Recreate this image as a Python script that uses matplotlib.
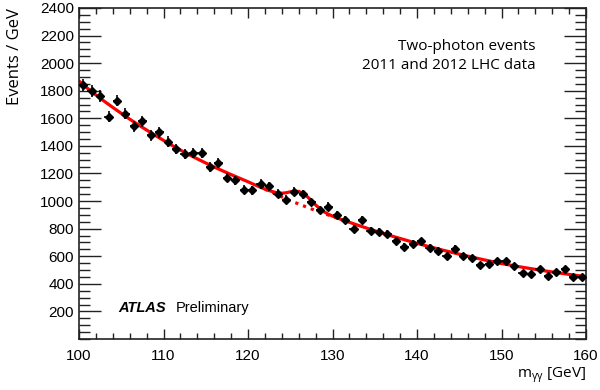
import numpy as np
import matplotlib.pyplot as plt
from matplotlib.ticker import MultipleLocator

# data points, 1 GeV bins (bin centres 100.5 ... 159.5)
mass = np.arange(100.5, 160.0, 1.0)
events = [1839, 1800, 1762, 1612, 1728, 1632, 1542, 1578, 1477, 1498,
          1431, 1378, 1339, 1349, 1349, 1248, 1277, 1170, 1151, 1083,
          1077, 1124, 1108, 1052, 1011, 1067, 1050, 994, 936, 960,
          897, 864, 796, 864, 786, 777, 762, 714, 670, 690,
          709, 663, 639, 600, 653, 600, 586, 538, 547, 567,
          565, 528, 475, 470, 509, 460, 484, 504, 452, 452]

# fitted curve: signal + background
fit_x = [100, 101, 102, 103, 104, 105, 106, 107, 108, 109,
         110, 111, 112, 113, 114, 115, 116, 117, 118, 119,
         120, 120.5, 121, 121.5, 122, 122.5, 123, 123.5, 124, 124.5,
         125, 125.5, 126, 126.5, 127, 127.5, 128, 128.5, 129, 129.5,
         130, 130.5, 131, 132, 133, 134, 135, 136, 137, 138,
         139, 140, 141, 142, 143, 144, 145, 146, 147, 148,
         149, 150, 151, 152, 153, 154, 155, 156, 157, 158,
         159, 160]
fit_y = [1870, 1818, 1769, 1723, 1679, 1636, 1594, 1554, 1515, 1477,
         1440, 1404, 1370, 1337, 1306, 1276, 1247, 1219, 1192, 1166,
         1140, 1126, 1113, 1099, 1087, 1076, 1067, 1059, 1057, 1060,
         1067, 1072, 1070, 1057, 1033, 1003, 972, 945, 922, 905,
         891, 879, 867, 846, 825, 805, 785, 766, 747, 729,
         711, 694, 677, 661, 645, 630, 615, 601, 587, 573,
         560, 547, 536, 525, 515, 505, 495, 486, 477, 468,
         460, 452]

# background-only part under the signal (dotted)
bkg_x = [122, 122.5, 123, 123.5, 124, 124.5, 125, 125.5, 126, 126.5,
         127, 127.5, 128, 128.5, 129, 129.5, 130, 130.5]
bkg_y = [1086, 1073, 1060, 1045, 1030, 1016, 1003, 991, 979, 967,
         955, 943, 932, 921, 910, 899, 889, 878]

x_ticks = [100, 110, 120, 130, 140, 150, 160]
y_ticks = [200, 400, 600, 800, 1000, 1200, 1400, 1600, 1800, 2000, 2200, 2400]

plt.rcParams['font.family'] = ['Liberation Sans', 'DejaVu Sans']
plt.rcParams['mathtext.fontset'] = 'custom'
plt.rcParams['mathtext.rm'] = 'Open Sans'
plt.rcParams['mathtext.it'] = 'Open Sans:italic'

fig = plt.figure(figsize=(6.0, 3.9), dpi=100)
ax = fig.add_axes([0.1317, 0.1308, 0.845, 0.8487])

ax.plot(fit_x, fit_y, color='red', lw=2.3, zorder=2, solid_capstyle='round')
ax.plot(bkg_x, bkg_y, color='red', lw=2.3, ls=(0, (1.0, 1.6)), zorder=2)
ax.errorbar(mass, events, yerr=np.sqrt(events), xerr=0.5, fmt='D',
            color='black', ms=4.2, elinewidth=1.2, capsize=0, zorder=3)

ax.set_xlim(100, 160)
ax.set_ylim(0, 2400)
ax.set_xticks(x_ticks)
ax.set_yticks(y_ticks)
ax.xaxis.set_minor_locator(MultipleLocator(2))
ax.yaxis.set_minor_locator(MultipleLocator(50))
ax.tick_params(which='both', direction='in', top=True, right=True,
               labelsize=11, width=1.0, color='#222222')
ax.tick_params(axis='y', which='major', length=16)
ax.tick_params(axis='y', which='minor', length=8)
ax.tick_params(axis='x', which='major', length=7)
ax.tick_params(axis='x', which='minor', length=4)
ax.tick_params(axis='x', pad=7)
for s in ax.spines.values():
    s.set_linewidth(1.2)
    s.set_color('#222222')

ax.set_ylabel('Events / GeV', family='Open Sans', fontsize=12, loc='top', labelpad=12)
ax.set_xlabel(r'm$_{\mathregular{γγ}}$ [GeV]', family='Open Sans', fontsize=11,
              loc='right', labelpad=2)

ax.text(0.901, 0.885, 'Two-photon events', transform=ax.transAxes, ha='right',
        va='center', family='Open Sans', fontsize=11)
ax.text(0.901, 0.825, '2011 and 2012 LHC data', transform=ax.transAxes, ha='right',
        va='center', family='Open Sans', fontsize=11)
ax.text(0.077, 0.095, 'ATLAS', transform=ax.transAxes, ha='left', va='center',
        fontsize=10.5, fontweight='bold', fontstyle='italic')
ax.text(0.19, 0.095, 'Preliminary', transform=ax.transAxes, ha='left', va='center',
        fontsize=10.5)

fig.savefig('out.png', dpi=100)
